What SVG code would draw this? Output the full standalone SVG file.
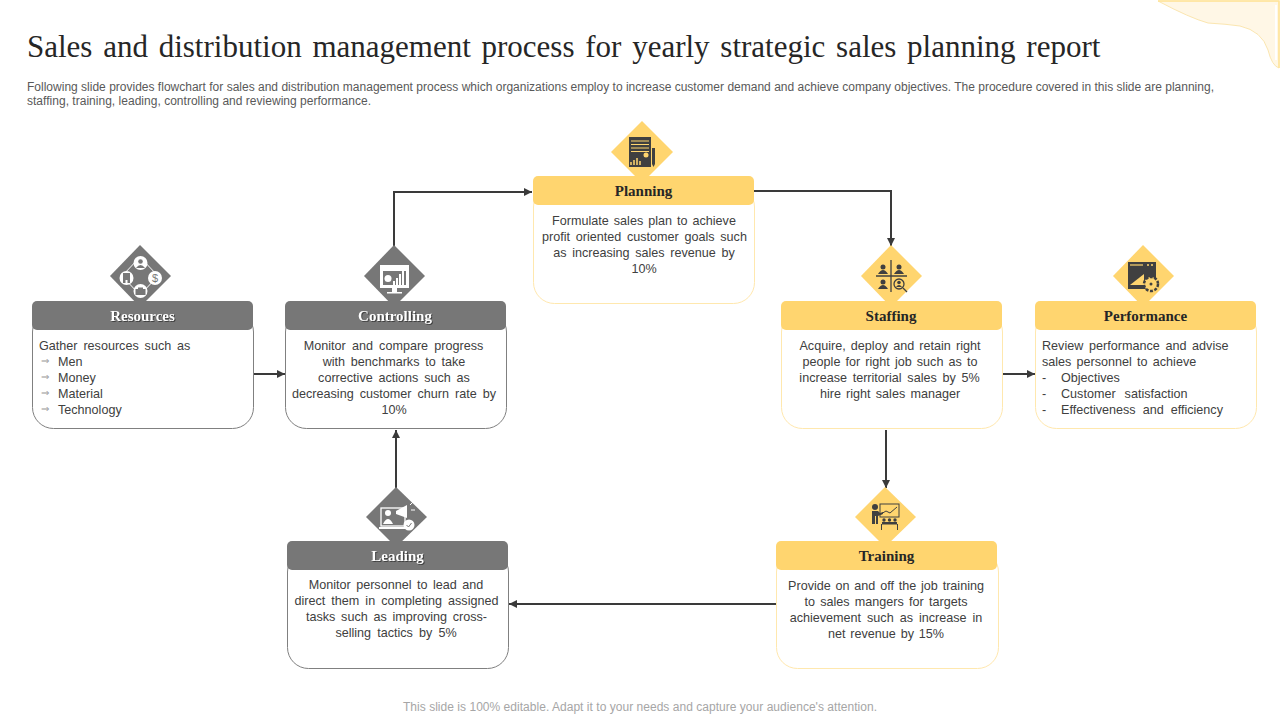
<svg xmlns="http://www.w3.org/2000/svg" width="1280" height="720" viewBox="0 0 1280 720">
<style>
.t{font-family:"Liberation Serif",serif}
.s{font-family:"Liberation Sans",Arial,sans-serif;font-size:12.6px;fill:#404040;white-space:pre}
.m{text-anchor:middle}
.h{font-family:"Liberation Serif",serif;font-size:15px;font-weight:700;text-anchor:middle}
.hy{fill:#262626}
.hg{fill:#fff;filter:drop-shadow(1px 1px 0 rgba(0,0,0,.45))}
.by{fill:#fff;stroke:#ffe8ae;stroke-width:1}
.bg{fill:#fff;stroke:#808080;stroke-width:1}
.fy{fill:#ffd56f}
.fg{fill:#777}
.c{fill:none;stroke:#3a3a3a;stroke-width:2}
.id{fill:#404040}
.ig{fill:#fff}
.ly{stroke:#404040;fill:none;stroke-width:1.3}
</style>
<defs>
<marker id="a" markerUnits="userSpaceOnUse" markerWidth="9" markerHeight="9" refX="8" refY="4.5" orient="auto"><path d="M0 0.5L8 4.500L0 8.500Z" fill="#3a3a3a"/></marker>
</defs>
<g id="corner">
<path d="M1158 1H1279V68Q1272 66 1268 50Q1262 31 1240 26Q1226 24 1208 23Q1190 18 1158 1Z" fill="#fff7e6" stroke="#fbe6b0" stroke-width="1"/>
<path d="M1158 1H1279V68" fill="none" stroke="#ffe59a" stroke-width="1.500"/>
<path d="M1276 5V60" stroke="#fff" stroke-width="2"/>
</g>
<text class="t" x="27" y="57" font-size="31" fill="#262626" style="word-spacing:3px">Sales and distribution management process for yearly strategic sales planning report</text>
<text class="s" x="27" y="91" style="font-size:12px;fill:#595959" textLength="1187">Following slide provides flowchart for sales and distribution management process which organizations employ to increase customer demand and achieve company objectives. The procedure covered in this slide are planning,</text>
<text class="s" x="27" y="105" style="font-size:12px;fill:#595959" textLength="344">staffing, training, leading, controlling and reviewing performance.</text>
<g id="connectors">
<path class="c" d="M394 246V192H532" marker-end="url(#a)"/>
<path class="c" d="M754 191H891V246" marker-end="url(#a)"/>
<path class="c" d="M254 374H285" marker-end="url(#a)"/>
<path class="c" d="M1003 374H1035" marker-end="url(#a)"/>
<path class="c" d="M396 488V430" marker-end="url(#a)"/>
<path class="c" d="M886 430V488" marker-end="url(#a)"/>
<path class="c" d="M776 604H509" marker-end="url(#a)"/>
</g>
<g id="planning">
<rect class="by" x="533.500" y="186" width="221" height="117.500" rx="21"/>
<path class="fy" d="M642 121L673 152L642 183L611 152Z"/>
<rect class="fy" x="533" y="176" width="221" height="29" rx="5"/>
<g>
<rect class="id" x="629" y="137" width="22" height="30"/>
<path d="M631 141H649M631 144.500H649M631 148H649M631 151.500H649" stroke="#ffd56f" stroke-width="1"/>
<circle cx="646" cy="155" r="2.500" fill="#ffd56f"/>
<path d="M631 165V162M634 165V160M637 165V158M640 165V161" stroke="#ffd56f" stroke-width="1.500"/>
<path class="id" d="M652 148H655V164L653.500 167L652 164Z"/>
</g>
<text class="h hy" x="643.500" y="196">Planning</text>
<text class="s m" x="644" y="225" style="word-spacing:1.500px">Formulate sales plan to achieve</text>
<text class="s m" x="644.500" y="241" style="word-spacing:2.200px">profit oriented customer goals such</text>
<text class="s m" x="644" y="257" style="word-spacing:2.200px">as increasing sales revenue by</text>
<text class="s m" x="644" y="273">10%</text>
</g>
<g id="resources">
<rect class="bg" x="32.500" y="311" width="221" height="117.500" rx="21"/>
<path class="fg" d="M140 245L171 276L140 307L110 276Z"/>
<path d="M140 257L158 276L140 295L122 276Z" fill="none" stroke="#fff" stroke-width="1"/>
<circle class="ig" cx="140.500" cy="263" r="7"/><circle class="ig" cx="155" cy="278" r="7"/><circle class="ig" cx="140.500" cy="291" r="7"/><circle class="ig" cx="126.500" cy="278" r="7"/>
<circle class="fg" cx="140.500" cy="261.500" r="2.300"/><path class="fg" d="M136 268Q140.500 262 145 268Z"/>
<path class="fg" d="M123 273H130V283H127.500V280H125.500V283H123Z"/>
<path class="fg" d="M135.500 289H138V287.500H143V289H145.500V295H135.500Z"/>
<text x="155" y="282" font-family="Liberation Sans" font-size="11" fill="#777" text-anchor="middle">$</text>
<rect class="fg" x="32" y="301" width="221" height="29" rx="5"/>
<text class="h hg" x="142.500" y="321">Resources</text>
<text class="s" x="39" y="350" style="word-spacing:2.400px">Gather resources such as</text>
<text class="s" x="58" y="366">Men</text><text class="s" x="58" y="382">Money</text><text class="s" x="58" y="398">Material</text><text class="s" x="58" y="414">Technology</text>
<g fill="#999" font-family="DejaVu Sans" font-size="10"><text x="41" y="364">⇒</text><text x="41" y="380">⇒</text><text x="41" y="396">⇒</text><text x="41" y="412">⇒</text></g>
</g>
<g id="controlling">
<rect class="bg" x="285.500" y="311" width="221" height="117.500" rx="21"/>
<path class="fg" d="M394 245L425 276L394 307L364 276Z"/>
<path class="ig" d="M380 265H409V288H397V292H402V293.500H387V292H392V288H380Z"/>
<rect class="fg" x="383" y="271" width="23" height="14"/>
<circle class="ig" cx="388" cy="278.500" r="3.500"/>
<path d="M394 285V281M397 285V278M400 285V274M403 285V271" stroke="#fff" stroke-width="2"/>
<rect class="fg" x="285" y="301" width="221" height="29" rx="5"/>
<text class="h hg" x="395" y="321">Controlling</text>
<text class="s m" x="393.500" y="350" style="word-spacing:2.700px">Monitor and compare progress</text>
<text class="s m" x="394" y="366" style="word-spacing:2.300px">with benchmarks to take</text>
<text class="s m" x="394" y="382" style="word-spacing:2.300px">corrective actions such as</text>
<text class="s m" x="394" y="398" style="word-spacing:2.500px">decreasing customer churn rate by</text>
<text class="s m" x="394" y="414">10%</text>
</g>
<g id="staffing">
<rect class="by" x="781.500" y="311" width="221" height="117.500" rx="21"/>
<path class="fy" d="M891 245L922 276L891 307L861 276Z"/>
<path class="ly" d="M891 260V292M876 276H907"/>
<g class="id"><circle cx="883" cy="267" r="2.500"/><path d="M878 274Q883 266 888 274Z"/><circle cx="899" cy="267" r="2.500"/><path d="M894 274Q899 266 904 274Z"/><circle cx="883" cy="282" r="2.500"/><path d="M878 289Q883 281 888 289Z"/></g>
<circle class="ly" cx="899" cy="284" r="5"/><circle class="id" cx="899" cy="282.500" r="1.800"/><path class="id" d="M896 287Q899 283 902 287Z"/><path class="ly" d="M903 288L907 292"/>
<rect class="fy" x="781" y="301" width="221" height="29" rx="5"/>
<text class="h hy" x="891" y="321">Staffing</text>
<text class="s m" x="890" y="350" style="word-spacing:1.700px">Acquire, deploy and retain right</text>
<text class="s m" x="890" y="366" style="word-spacing:1.600px">people for right job such as to</text>
<text class="s m" x="889.500" y="382" style="word-spacing:2.200px">increase territorial sales by 5%</text>
<text class="s m" x="890" y="398" style="word-spacing:1.700px">hire right sales manager</text>
</g>
<g id="performance">
<rect class="by" x="1035.500" y="311" width="221" height="117.500" rx="21"/>
<path class="fy" d="M1143 245L1174 276L1143 307L1113 276Z"/>
<rect class="id" x="1128" y="262" width="28" height="27"/>
<path d="M1130 265H1143" stroke="#ffd56f" stroke-width="1.200"/>
<path d="M1147 265H1149M1151 265H1153" stroke="#ffd56f" stroke-width="1.500"/>
<path class="fy" d="M1130 285L1144 274V285Z"/>
<circle cx="1151" cy="284" r="7" fill="#ffd56f" stroke="#404040" stroke-width="2.500" stroke-dasharray="3 1.500"/>
<circle class="id" cx="1151" cy="284" r="1.500"/>
<rect class="fy" x="1035" y="301" width="221" height="29" rx="5"/>
<text class="h hy" x="1145.500" y="321">Performance</text>
<text class="s" x="1042" y="350" style="word-spacing:2.200px">Review performance and advise</text>
<text class="s" x="1042" y="366" style="word-spacing:1.700px">sales personnel to achieve</text>
<text class="s" x="1042" y="382">-</text><text class="s" x="1061" y="382">Objectives</text>
<text class="s" x="1042" y="398">-</text><text class="s" x="1061" y="398" style="word-spacing:5.500px">Customer satisfaction</text>
<text class="s" x="1042" y="414">-</text><text class="s" x="1061" y="414" style="word-spacing:3.500px">Effectiveness and efficiency</text>
</g>
<g id="leading">
<rect class="bg" x="287.500" y="551" width="221" height="117.500" rx="21"/>
<path class="fg" d="M396 487L427 517L396 547L366 517Z"/>
<rect x="381" y="508" width="24" height="18" fill="none" stroke="#fff" stroke-width="1.300"/>
<path class="ig" d="M379 527H407V529H379Z"/>
<circle class="ig" cx="388" cy="513" r="3"/><path class="ig" d="M383 524Q388 514 393 524Z"/>
<path class="ig" d="M396 511L407 505V518L396 514Z"/><path d="M410 505L413 502M411 510H415" stroke="#fff"/>
<circle class="ig" cx="409" cy="525" r="5.500"/><path d="M406.500 525L408.500 527L411.500 523" stroke="#777" fill="none"/>
<rect class="fg" x="287" y="541" width="221" height="29" rx="5"/>
<text class="h hg" x="397.500" y="561">Leading</text>
<text class="s m" x="396" y="589" style="word-spacing:2px">Monitor personnel to lead and</text>
<text class="s m" x="396.500" y="605" style="word-spacing:2.500px">direct them in completing assigned</text>
<text class="s m" x="396.500" y="621" style="word-spacing:2.200px">tasks such as improving cross-</text>
<text class="s m" x="396" y="637" style="word-spacing:2.600px">selling tactics by 5%</text>
</g>
<g id="training">
<rect class="by" x="776.500" y="551" width="222" height="117.500" rx="21"/>
<path class="fy" d="M885 487L916 517L885 547L855 517Z"/>
<g class="id"><circle cx="875" cy="507" r="3"/><path d="M872 511H878L880 513L883 512V514L878 516V524H876V516H875V524H872Z"/></g>
<rect x="880" y="504" width="19" height="13" fill="none" stroke="#404040" stroke-width="1"/>
<path d="M881 514L886 511L890 513L897 507" fill="none" stroke="#404040" stroke-width="1"/>
<g class="id"><circle cx="884" cy="520" r="1.700"/><circle cx="889.500" cy="520" r="1.700"/><circle cx="895" cy="520" r="1.700"/><rect x="882" y="522" width="15" height="2.500"/></g>
<path d="M881.500 524V530M897.500 524V530" stroke="#404040"/>
<rect class="fy" x="776" y="541" width="221" height="29" rx="5"/>
<text class="h hy" x="886.500" y="561">Training</text>
<text class="s m" x="886" y="590" style="word-spacing:1.300px">Provide on and off the job training</text>
<text class="s m" x="886" y="606" style="word-spacing:1.700px">to sales mangers for targets</text>
<text class="s m" x="886" y="622" style="word-spacing:2.500px">achievement such as increase in</text>
<text class="s m" x="886" y="638" style="word-spacing:1.300px">net revenue by 15%</text>
</g>
<text class="s m" x="640" y="711" style="font-size:12px;fill:#a6a6a6" textLength="474">This slide is 100% editable. Adapt it to your needs and capture your audience's attention.</text>
</svg>
